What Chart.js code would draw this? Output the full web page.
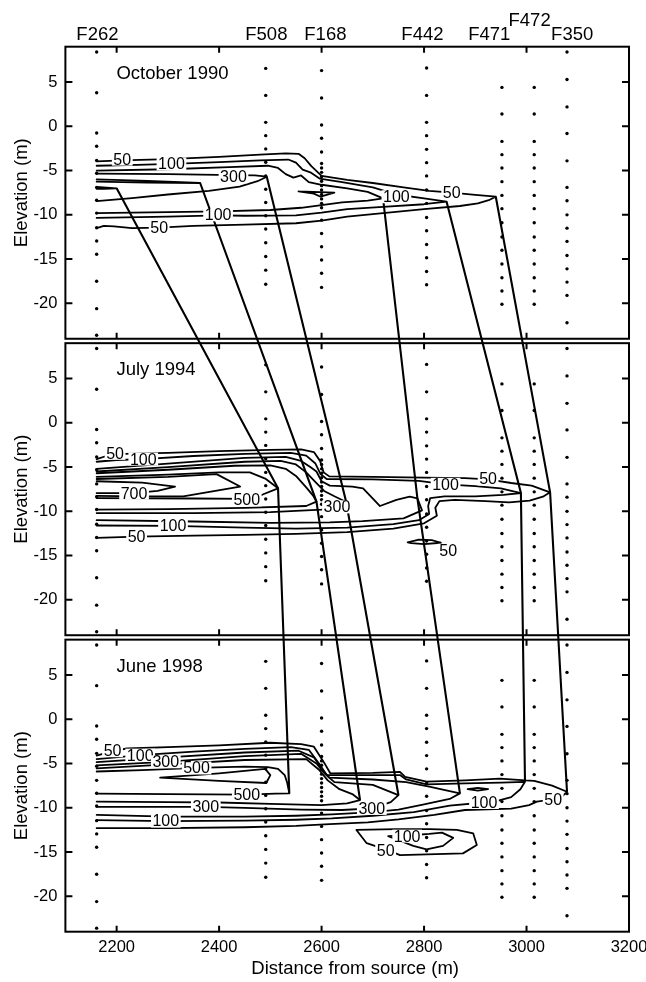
<!DOCTYPE html>
<html>
<head>
<meta charset="utf-8">
<script src="https://cdn.jsdelivr.net/npm/chart.js@4.4.1/dist/chart.umd.min.js"></script>
<style>
  html, body { margin: 0; padding: 0; background: #fff; }
  canvas { display: block; }
</style>
</head>
<body>
<canvas id="chart" width="646" height="982" style="width:646px;height:982px"></canvas>
<script>
// ---- Transect wells: name, distance from source (m) ----
const wellNames = ['F262', 'F508', 'F168', 'F442', 'F471', 'F472', 'F350'];
const wellDistance = [2161, 2491, 2600, 2805, 2952, 3015, 3079];

// Sampling-port elevations (m) in each well
const f262Ports = [8.4, 3.8, -0.75, -2.25, -3.85, -5.3, -6.9, -8.35, -9.8, -11.45, -12.95, -14.45, -17.5, -20.6, -23.6];
const f508Ports = [6.55, 3.5, 0.45, -1.05, -2.55, -4.05, -5.6, -7.1, -8.6, -10.1, -11.6, -13.15, -14.7, -16.25, -17.85];
const f168Ports = [6.3, 3.2, 0.15, -1.35, -2.9, -4.2, -4.7, -5.2, -5.7, -6.2, -6.7, -7.2, -7.7, -8.2, -8.7, -9.2, -10.6, -12.1, -13.6, -15.1, -16.6, -18.2];
const f442Ports = [6.6, 3.5, 0.45, -1.05, -2.6, -4.1, -5.6, -7.2, -8.7, -10.3, -11.8, -13.35, -14.85, -16.4, -17.9];
const f471Ports = [4.4, 1.4, -1.7, -3.2, -4.7, -6.25, -7.8, -9.3, -10.9, -12.5, -14.0, -15.55, -17.1, -18.6, -20.1];
const f472Ports = [4.4, 1.4, -1.7, -3.2, -4.7, -6.25, -7.8, -9.3, -10.9, -12.5, -14.0, -15.55, -17.1, -18.6, -20.1];
const f350Ports = [8.4, 5.3, 2.2, -0.8, -3.9, -6.9, -8.4, -10.0, -11.5, -13.0, -14.6, -16.1, -17.6, -19.1, -22.2];

// Surveys (one panel each, top to bottom)
const surveys = ['October 1990', 'July 1994', 'June 1998'];

// Axis ticks
const xTicks = [2200, 2400, 2600, 2800, 3000, 3200];
const elevTicks = [-20, -15, -10, -5, 0, 5];
const elevMin = -24, elevMax = 9;

// ---- Concentration contours, [distance, elevation] ----
// October 1990
const c90_50 = [[2161,-3.95],[2211,-3.85],[2300,-3.7],[2400,-3.45],[2480,-3.2],[2530,-3.05],[2555,-3.1],[2567,-3.6],[2580,-4.5],[2600,-5.6],[2650,-6.05],[2700,-6.4],[2760,-6.9],[2810,-7.3],[2854,-7.5],[2900,-7.75],[2940,-7.95],
  [2928,-8.3],[2905,-8.7],[2870,-9.0],[2800,-9.35],[2720,-9.8],[2650,-10.2],[2600,-10.65],[2550,-10.95],[2450,-11.1],[2350,-11.25],[2283,-11.45],[2230,-11.5],[2195,-11.3],[2175,-11.25],[2161,-11.5]];
const c90_100 = [[2161,-4.45],[2240,-4.35],[2307,-4.25],[2400,-4.05],[2480,-3.85],[2535,-3.75],[2550,-4.1],[2563,-4.9],[2578,-5.2],[2596,-5.9],[2640,-6.3],[2700,-6.9],[2746,-7.7],[2800,-8.15],[2844,-8.51],
  [2800,-8.8],[2720,-9.1],[2650,-9.35],[2600,-9.75],[2550,-10.05],[2450,-10.1],[2398,-10.05],[2300,-10.2],[2161,-10.35]];
const c90_200 = [[2161,-5.0],[2300,-4.85],[2420,-4.6],[2495,-4.45],[2515,-4.7],[2530,-5.4],[2545,-5.8],[2560,-5.55],[2575,-6.3],[2600,-6.6],[2650,-7.0],[2690,-7.4],[2720,-8.13],
  [2690,-8.4],[2640,-8.6],[2600,-8.9],[2560,-9.2],[2500,-9.45],[2400,-9.6],[2300,-9.7],[2161,-9.8]];
const c90_300 = [[2161,-5.35],[2300,-5.4],[2428,-5.5],[2470,-5.55],[2493,-5.69],
  [2475,-6.2],[2440,-6.8],[2380,-7.3],[2300,-7.7],[2230,-8.1],[2161,-8.45]];
const c90_300b = [[2555,-7.35],[2625,-7.5],[2598,-7.95],[2585,-7.6],[2555,-7.35]];
const c90_400 = [[2161,-6.0],[2260,-6.15],[2363,-6.4],[2260,-6.35],[2161,-6.25]];
const c90_500 = [[2161,-6.85],[2200,-7.0],[2175,-7.05],[2161,-7.05]];

// July 1994
const c94_50 = [[2161,-4.1],[2180,-3.75],[2215,-3.5],[2300,-3.4],[2400,-3.2],[2500,-3.05],[2560,-3.0],[2585,-3.3],[2597,-4.3],[2604,-5.6],[2615,-6.05],[2700,-6.1],[2800,-6.2],[2880,-6.25],[2925,-6.4],[2970,-6.8],[3010,-7.1],[3046,-7.85],
  [3032,-8.35],[3006,-8.8],[2966,-9.0],[2920,-8.85],[2860,-8.7],[2830,-8.85],[2822,-9.6],[2825,-10.5],[2800,-11.35],[2740,-11.95],[2650,-12.35],[2550,-12.55],[2450,-12.65],[2350,-12.75],[2239,-12.85],[2161,-13.0]];
const c94_100 = [[2161,-4.4],[2200,-4.2],[2252,-4.1],[2350,-3.75],[2450,-3.5],[2540,-3.4],[2570,-3.7],[2588,-4.6],[2598,-5.8],[2610,-6.35],[2700,-6.4],[2790,-6.55],[2842,-6.95],[2900,-7.15],[2950,-7.4],[2989,-7.93],
  [2955,-8.15],[2900,-8.3],[2840,-8.3],[2812,-8.5],[2808,-9.4],[2810,-10.3],[2790,-11.0],[2740,-11.45],[2650,-11.85],[2550,-11.95],[2450,-11.85],[2310,-11.65],[2161,-11.6]];
const c94_200 = [[2161,-5.2],[2300,-4.6],[2450,-3.95],[2530,-3.85],[2560,-4.3],[2578,-5.0],[2590,-5.5],[2600,-6.6],[2616,-7.1],[2660,-7.2],[2681,-7.4],[2714,-9.4],[2746,-8.7],[2772,-8.35],[2787,-8.53],
  [2796,-9.9],[2760,-10.8],[2680,-11.1],[2616,-11.25],[2500,-11.3],[2350,-11.15],[2161,-11.0]];
const c94_300 = [[2161,-5.5],[2300,-5.0],[2450,-4.4],[2520,-4.3],[2550,-4.7],[2570,-5.6],[2590,-6.8],[2605,-7.7],[2625,-8.3],[2648,-8.94],
  [2630,-9.45],[2600,-9.8],[2500,-10.1],[2350,-10.2],[2161,-10.2]];
const c94_400 = [[2161,-5.7],[2300,-5.3],[2430,-4.85],[2500,-4.8],[2530,-5.2],[2550,-6.0],[2570,-7.3],[2583,-8.2],[2590,-8.9],
  [2570,-9.4],[2450,-9.6],[2300,-9.75],[2161,-9.8]];
const c94_500 = [[2161,-6.1],[2300,-5.85],[2400,-5.6],[2460,-5.6],[2490,-6.3],[2515,-7.4],
  [2485,-8.1],[2454,-8.6],[2350,-8.55],[2161,-8.5]];
const c94_600 = [[2161,-6.35],[2300,-6.1],[2395,-5.8],[2441,-7.2],
  [2330,-8.3],[2250,-8.3],[2161,-8.25]];
const c94_700 = [[2161,-6.6],[2250,-6.75],[2314,-7.2],
  [2280,-7.7],[2234,-7.95],[2161,-7.95]];
const c94_50b = [[2768,-13.5],[2790,-13.2],[2815,-13.25],[2833,-13.55],[2800,-13.7],[2775,-13.6],[2768,-13.5]];

// June 1998
const c98_50 = [[2161,-4.1],[2192,-3.6],[2220,-3.3],[2300,-3.15],[2400,-2.95],[2500,-2.65],[2560,-2.8],[2585,-3.1],[2605,-4.9],[2617,-6.1],[2700,-6.05],[2753,-5.93],[2763,-6.5],[2805,-7.05],[2880,-6.9],[2948,-6.7],[2997,-6.9],[3015,-6.95],[3050,-7.5],[3079,-8.19],
  [3068,-8.8],[3052,-9.05],[3020,-9.3],[3005,-9.7],[2970,-10.1],[2880,-10.25],[2820,-10.8],[2750,-11.3],[2690,-11.65],[2616,-11.85],[2550,-12.05],[2450,-12.2],[2300,-12.3],[2161,-12.3]];
const c98_100 = [[2161,-4.5],[2246,-4.05],[2350,-3.65],[2450,-3.35],[2540,-3.15],[2575,-3.45],[2595,-5.0],[2610,-6.3],[2700,-6.3],[2753,-6.3],[2765,-6.8],[2805,-7.35],[2880,-7.25],[2950,-7.15],[2997,-7.06],
  [2988,-7.9],[2970,-8.8],[2945,-9.2],[2917,-9.4],[2850,-9.75],[2780,-10.5],[2700,-10.9],[2620,-11.2],[2550,-11.35],[2450,-11.45],[2296,-11.5],[2161,-11.4]];
const c98_200 = [[2161,-4.85],[2300,-4.3],[2450,-3.75],[2555,-3.55],[2585,-4.3],[2600,-5.6],[2615,-6.6],[2700,-6.8],[2765,-7.1],[2810,-7.6],[2870,-8.37],
  [2850,-9.0],[2800,-9.6],[2750,-10.2],[2700,-10.5],[2620,-10.75],[2550,-10.9],[2450,-11.0],[2300,-11.0],[2161,-10.8]];
const c98_200b = [[2885,-7.9],[2905,-7.75],[2925,-7.9],[2905,-8.05],[2885,-7.9]];
const c98_300 = [[2161,-5.2],[2296,-4.8],[2450,-4.15],[2560,-3.9],[2590,-5.0],[2607,-6.2],[2625,-7.1],[2700,-7.4],[2750,-8.56],
  [2735,-9.35],[2698,-10.07],[2640,-10.25],[2560,-10.2],[2450,-10.0],[2374,-9.9],[2250,-9.9],[2161,-9.9]];
const c98_400 = [[2161,-5.55],[2300,-5.1],[2450,-4.6],[2570,-4.5],[2595,-5.7],[2612,-6.9],[2635,-7.9],[2660,-8.45],[2675,-9.12],
  [2650,-9.5],[2600,-9.7],[2500,-9.55],[2400,-9.4],[2300,-9.35],[2161,-9.3]];
const c98_500 = [[2161,-5.9],[2250,-5.75],[2356,-5.5],[2450,-5.35],[2495,-5.4],[2515,-5.6],[2528,-6.3],[2533,-7.2],[2537,-8.37],
  [2510,-8.4],[2454,-8.5],[2300,-8.45],[2161,-8.4]];
const c98_700 = [[2285,-6.6],[2400,-6.1],[2490,-5.6],[2500,-6.3],[2492,-7.2],[2400,-6.95],[2285,-6.6]];
const c98_50b = [[2668,-12.5],[2688,-14.0],[2730,-14.8],[2753,-15.35],[2876,-15.15],[2903,-14.2],[2896,-12.9],[2864,-12.5],[2811,-12.4],[2746,-12.4],[2668,-12.5]];
const c98_100b = [[2730,-13.2],[2779,-14.3],[2805,-14.7],[2837,-14.3],[2857,-13.4],[2835,-12.8],[2810,-12.95],[2775,-13.1],[2730,-13.2]];

// Contour labels per survey: [distance, elevation, level]
const labels1990 = [[2211,-3.7,50],[2307,-4.25,100],[2428,-5.69,300],[2746,-7.95,100],[2854,-7.5,50],[2398,-10.0,100],[2283,-11.45,50]];
const labels1994 = [[2197,-3.45,50],[2252,-4.1,100],[2234,-7.95,700],[2454,-8.7,500],[2630,-9.5,300],[2842,-6.95,100],[2925,-6.35,50],[2310,-11.65,100],[2239,-12.85,50],[2847,-14.4,50]];
const labels1998 = [[2192,-3.55,50],[2246,-4.05,100],[2296,-4.8,300],[2356,-5.5,500],[2454,-8.5,500],[2374,-9.9,300],[2296,-11.5,100],[2698,-10.07,300],[2917,-9.4,100],[3052,-9.05,50],[2767,-13.2,100],[2725,-14.8,50]];

// Plume front of each level in 1990, 1994, 1998: [distance, elevation]
const front50  = [[2940,-7.95],[3046,-7.85],[3079,-8.19]];
const front100 = [[2844,-8.51],[2989,-7.93],[2997,-7.06]];
const front200 = [[2720,-8.13],[2787,-8.53],[2870,-8.37]];
const front300 = [[2493,-5.69],[2648,-8.94],[2750,-8.56]];
const front400 = [[2363,-6.4],[2590,-8.9],[2675,-9.12]];
const front500 = [[2200,-7.0],[2515,-7.4],[2537,-8.37]];

// ---- Assemble per-panel lists ----
const wellPorts = [f262Ports, f508Ports, f168Ports, f442Ports, f471Ports, f472Ports, f350Ports];
const contourSets = [
  [c90_50, c90_100, c90_200, c90_300, c90_300b, c90_400, c90_500],
  [c94_50, c94_100, c94_200, c94_300, c94_400, c94_500, c94_600, c94_700, c94_50b],
  [c98_50, c98_100, c98_200, c98_200b, c98_300, c98_400, c98_500, c98_700, c98_50b, c98_100b]
];
const labelSets = [labels1990, labels1994, labels1998];
const fronts = [front50, front100, front200, front300, front400, front500];

// The three panels share one vertical scale; each survey is shifted up by a fixed span.
const panelSpan = (elevMax - elevMin) + 0.5;
const panelShift = [2 * panelSpan, panelSpan, 0];
const shifted = (p, e) => e + panelShift[p];

const FONT = "'Liberation Sans', Arial, Helvetica, sans-serif";
const datasets = [];

contourSets.forEach((set, p) => {
  set.forEach(line => {
    datasets.push({
      data: line.map(([d, e]) => ({ x: d, y: shifted(p, e) })),
      showLine: true, borderColor: '#000', borderWidth: 1.8,
      pointRadius: 0, tension: 0, borderJoinStyle: 'round', borderCapStyle: 'round'
    });
  });
});

fronts.forEach(front => {
  datasets.push({
    data: front.map(([d, e], p) => ({ x: d, y: shifted(p, e) })),
    showLine: true, borderColor: '#000', borderWidth: 2.1,
    pointRadius: 0, tension: 0, borderJoinStyle: 'miter'
  });
});

[0, 1, 2].forEach(p => {
  const pts = [];
  wellDistance.forEach((d, w) => wellPorts[w].forEach(e => pts.push({ x: d, y: shifted(p, e) })));
  datasets.push({
    data: pts, showLine: false, pointRadius: 1.7,
    pointBackgroundColor: '#000', pointBorderWidth: 0
  });
});

// ---- Frames, inward ticks, panel text and contour labels ----
const labelNudge = { F262: [0.8, 0], F508: [0.6, 0], F168: [3.8, 0], F442: [-4.2, 0], F471: [-12.7, 0], F472: [-4.6, -13.3], F350: [5.2, 0] };

const panelDecor = {
  id: 'panelDecor',
  afterDatasetsDraw(chart) {
    const { ctx, chartArea: a, scales: { x, y } } = chart;
    ctx.save();

    // contour labels, inline on a white break
    ctx.font = `16px ${FONT}`;
    ctx.textAlign = 'center';
    ctx.textBaseline = 'middle';
    labelSets.forEach((set, p) => {
      set.forEach(([d, e, level]) => {
        const px = x.getPixelForValue(d), py = y.getPixelForValue(shifted(p, e));
        const t = String(level);
        const w = ctx.measureText(t).width;
        ctx.fillStyle = '#fff';
        ctx.fillRect(px - w / 2 - 1.5, py - 6.5, w + 3, 13);
        ctx.fillStyle = '#000';
        ctx.fillText(t, px, py + 1);
      });
    });

    ctx.strokeStyle = '#000';
    ctx.lineWidth = 2;
    [0, 1, 2].forEach(p => {
      const top = y.getPixelForValue(shifted(p, elevMax));
      const bot = y.getPixelForValue(shifted(p, elevMin));
      ctx.strokeRect(a.left, top, a.right - a.left, bot - top);
      ctx.beginPath();
      xTicks.forEach(v => {
        const px = x.getPixelForValue(v);
        if (px >= a.right - 1) return;
        ctx.moveTo(px, top); ctx.lineTo(px, top + 6);
        ctx.moveTo(px, bot); ctx.lineTo(px, bot - 6);
      });
      elevTicks.forEach(v => {
        const py = y.getPixelForValue(shifted(p, v));
        ctx.moveTo(a.left, py); ctx.lineTo(a.left + 7, py);
        ctx.moveTo(a.right, py); ctx.lineTo(a.right - 7, py);
      });
      ctx.stroke();

      // survey name
      ctx.fillStyle = '#000';
      ctx.font = `18.5px ${FONT}`;
      ctx.textAlign = 'left';
      ctx.textBaseline = 'middle';
      ctx.fillText(surveys[p], a.left + 51, top + 27);

      // vertical axis title
      ctx.save();
      ctx.translate(22, (top + bot) / 2);
      ctx.rotate(-Math.PI / 2);
      ctx.textAlign = 'center';
      ctx.fillText('Elevation (m)', 0, 0);
      ctx.restore();
    });

    // well names along the top
    ctx.font = `18.5px ${FONT}`;
    ctx.textAlign = 'center';
    ctx.textBaseline = 'middle';
    wellNames.forEach((n, w) => {
      const [dx, dy] = labelNudge[n];
      ctx.fillText(n, x.getPixelForValue(wellDistance[w]) + dx, a.top - 12 + dy);
    });

    // horizontal axis title
    ctx.fillText('Distance from source (m)', (a.left + a.right) / 2 + 8, 969);
    ctx.restore();
  }
};

new Chart(document.getElementById('chart'), {
  type: 'scatter',
  data: { datasets },
  plugins: [panelDecor],
  options: {
    responsive: false,
    devicePixelRatio: 1,
    animation: false,
    events: [],
    layout: { padding: { top: 46.7, right: 17, bottom: 0, left: 0 } },
    plugins: { legend: { display: false }, tooltip: { enabled: false } },
    scales: {
      x: {
        type: 'linear', min: 2100, max: 3200,
        afterBuildTicks: s => { s.ticks = xTicks.map(v => ({ value: v })); },
        afterFit: s => { s.height = 50.3; s.paddingLeft = 0; s.paddingRight = 0; },
        grid: { display: false, drawTicks: false },
        border: { display: false },
        ticks: {
          color: '#000', font: { family: FONT, size: 16.5 }, padding: 6, maxRotation: 0, autoSkip: false,
          callback: v => String(v)
        }
      },
      y: {
        type: 'linear', min: elevMin, max: elevMax + 2 * panelSpan,
        afterBuildTicks: s => {
          const t = [];
          panelShift.forEach(off => elevTicks.forEach(v => t.push({ value: v + off })));
          s.ticks = t;
        },
        afterFit: s => { s.width = 65.4; s.paddingTop = 0; s.paddingBottom = 0; },
        grid: { display: false, drawTicks: false },
        border: { display: false },
        ticks: {
          color: '#000', font: { family: FONT, size: 16.5 }, padding: 8, autoSkip: false,
          callback: v => {
            const off = panelShift.find(o => v >= elevMin + o - 0.01 && v <= elevMax + o + 0.01);
            return String(Math.round(v - off));
          }
        }
      }
    }
  }
});
</script>
</body>
</html>
